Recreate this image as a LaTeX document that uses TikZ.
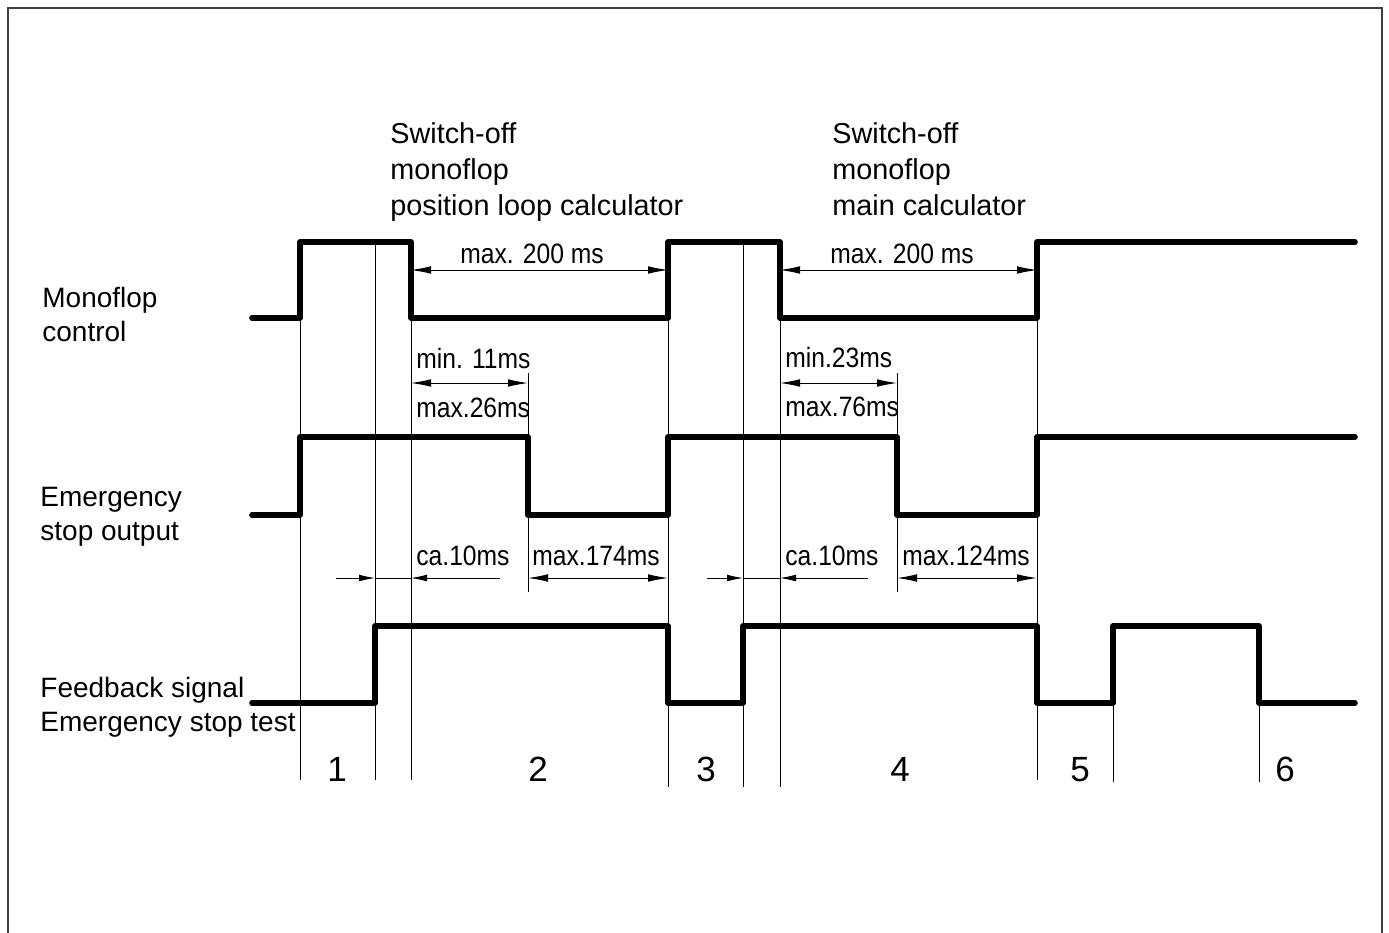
\documentclass[tikz,border=0pt]{standalone}
\usepackage{fontspec}
\setmainfont{Liberation Sans}
\usetikzlibrary{arrows.meta,positioning}
\newcommand{\narrowtext}[1]{\scalebox{0.88}[1]{#1}}
\tikzset{
  frame/.style={line width=0.7pt, black!75},
  signal/.style={line width=2.8pt, line join=round, line cap=round},
  guide/.style={line width=0.45pt},
  dim/.style={line width=0.45pt, {Latex[length=10pt,width=3.8pt]}-{Latex[length=10pt,width=3.8pt]}},
  halfdim/.style={line width=0.45pt, -{Latex[length=8pt,width=3.4pt]}},
  dimlabel/.style={anchor=base west, inner sep=0pt, font=\fontsize{14}{16}\selectfont},
  signame/.style={anchor=north west, inner sep=0pt, align=left, font=\fontsize{14}{17}\selectfont},
  heading/.style={anchor=north west, inner sep=0pt, align=left, font=\fontsize{14.4}{18}\selectfont},
  phase/.style={anchor=base, inner sep=0pt, font=\fontsize{17.5}{20}\selectfont},
}
\begin{document}
\begin{tikzpicture}[x=0.5pt,y=-0.5pt]
    %% \draw[help lines] (0,0) grid (1389,933);
    \useasboundingbox (0,0) rectangle (1389,933);
    \draw[frame] (8,933) -- (8,8) -- (1382,8) -- (1382,933);

    \node[signame] (mono)  at (42,287) {Monoflop\\control};
    \node[signame] (estop) at (40,487) {Emergency\\stop output};
    \node[signame] (fback) at (40,677) {Feedback signal\\Emergency stop test};

    \node[heading] (hpos)  at (390,122) {Switch-off\\monoflop\\position loop calculator};
    \node[heading] (hmain) at (832,122) {Switch-off\\monoflop\\main calculator};

    % time marks
    \foreach \x/\a/\b in {300/318/780, 375/242/780, 411/318/780, 528/373/437, 528/515/592,
                          668/318/787, 743/242/787, 780/318/787, 897/373/437, 897/515/592,
                          1037/318/780, 1113/703/782, 1259/703/782}
      \draw[guide] (\x,\a) -- (\x,\b);

    \draw[signal] (252,318) -- (300,318) -- (300,242) -- (411,242) -- (411,318) -- (668,318)
      -- (668,242) -- (780,242) -- (780,318) -- (1037,318) -- (1037,242) -- (1355,242);
    \draw[signal] (252,515) -- (300,515) -- (300,437) -- (528,437) -- (528,515) -- (668,515)
      -- (668,437) -- (897,437) -- (897,515) -- (1037,515) -- (1037,437) -- (1355,437);
    \draw[signal] (252,703) -- (375,703) -- (375,626) -- (668,626) -- (668,703) -- (743,703)
      -- (743,626) -- (1037,626) -- (1037,703) -- (1113,703) -- (1113,626) -- (1259,626)
      -- (1259,703) -- (1355,703);

    % switch-off times
    \coordinate (P1) at (411,270);  \coordinate (P2) at (668,270);
    \coordinate (M1) at (780,270);  \coordinate (M2) at (1037,270);
    \draw[dim] (P1) -- (P2);
    \draw[dim] (M1) -- (M2);
    \node[dimlabel, anchor=base] at (532,263) {\narrowtext{max. 200 ms}};
    \node[dimlabel, anchor=base] at (902,263) {\narrowtext{max. 200 ms}};

    \coordinate (E1) at (411,383);  \coordinate (E2) at (528,383);
    \coordinate (F1) at (780,383);  \coordinate (F2) at (897,383);
    \draw[dim] (E1) -- (E2);
    \draw[dim] (F1) -- (F2);
    \node[dimlabel] at (416,368) {\narrowtext{min. 11ms}};
    \node[dimlabel] at (416,417) {\narrowtext{max.26ms}};
    \node[dimlabel] at (785,367) {\narrowtext{min.23ms}};
    \node[dimlabel] at (785,416) {\narrowtext{max.76ms}};

    \coordinate (C0) at (336,578);  \coordinate (C1) at (375,578);
    \coordinate (C2) at (411,578);  \coordinate (C3) at (500,578);
    \draw[halfdim] (C0) -- (C1);
    \draw[guide] (C1) -- (C2);
    \draw[halfdim] (C3) -- (C2);
    \coordinate (D0) at (707,578);  \coordinate (D1) at (743,578);
    \coordinate (D2) at (780,578);  \coordinate (D3) at (868,578);
    \draw[halfdim] (D0) -- (D1);
    \draw[guide] (D1) -- (D2);
    \draw[halfdim] (D3) -- (D2);
    \coordinate (R1) at (528,578);  \coordinate (R2) at (668,578);
    \coordinate (S1) at (897,578);  \coordinate (S2) at (1037,578);
    \draw[dim] (R1) -- (R2);
    \draw[dim] (S1) -- (S2);
    \node[dimlabel] at (416,565) {\narrowtext{ca.10ms}};
    \node[dimlabel] at (532,565) {\narrowtext{max.174ms}};
    \node[dimlabel] at (785,565) {\narrowtext{ca.10ms}};
    \node[dimlabel] at (902,565) {\narrowtext{max.124ms}};

    \foreach \x/\n in {337/1, 538/2, 706/3, 900/4, 1080/5, 1285/6}
      \node[phase] (ph\n) at (\x,781) {\n};
\end{tikzpicture}
\end{document}
